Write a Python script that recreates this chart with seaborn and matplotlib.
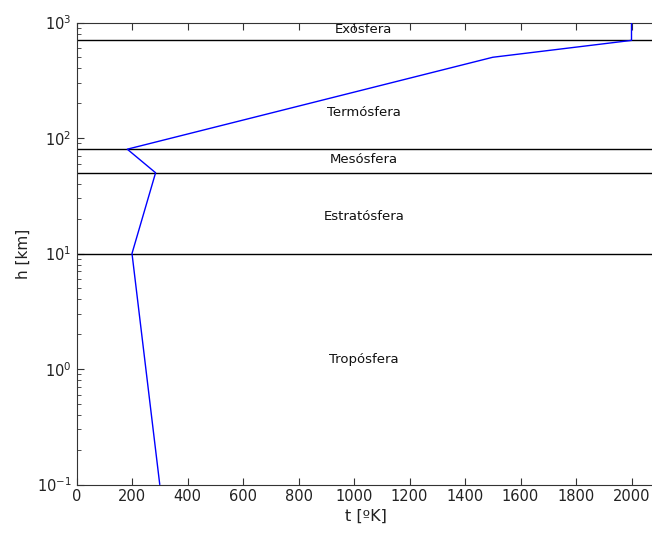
import numpy as np
import pandas as pd
import matplotlib
matplotlib.use("Agg")
from matplotlib import pyplot as plt, ticker
import seaborn as sns

# temperature profile [K] vs height [km]
temp_k = [300, 200, 285, 183, 1500, 2000, 2000]
height_km = [0.1, 10, 50, 80, 500, 700, 1000]

# layer boundaries [km]
boundaries = [10, 50, 80, 700]

layer_names = ["Tropósfera", "Estratósfera", "Mesósfera", "Termósfera", "Exósfera"]
layer_label_h = [1.2, 21, 65, 166, 870]

sns.set_style("ticks")
plt.rcParams["font.family"] = ["DejaVu Sans"]
plt.rcParams["mathtext.default"] = "regular"

x_max = 2085
fig = plt.figure(figsize=(6.52, 5.33), dpi=100)
ax = fig.add_axes([76.5 / 652, 1 - 484.5 / 533, x_max * 0.2775 / 652, 462 / 533])

df = pd.DataFrame({"t": temp_k, "h": height_km})
sns.lineplot(data=df, x="t", y="h", sort=False, estimator=None,
             color="#0000ff", lw=1, ax=ax, zorder=3)

for b in boundaries:
    ax.axhline(b, color="black", lw=1)

for name, h in zip(layer_names, layer_label_h):
    ax.text(1035, h, name, ha="center", va="center", fontsize=9.5, color="#111111")

ax.set_yscale("log")
ax.set_xlim(0, x_max)
ax.set_ylim(0.1, 1000)
ax.set_xticks(np.arange(0, 2001, 200))
ax.yaxis.set_major_locator(ticker.LogLocator(base=10, numticks=10))
ax.yaxis.set_minor_locator(ticker.LogLocator(base=10, subs=np.arange(2, 10), numticks=10))
ax.yaxis.set_minor_formatter(ticker.NullFormatter())

# matlab-like box: ticks inside, right spine falls just outside the image
ax.tick_params(direction="in", top=True, right=False, which="both", labelsize=10.5,
               colors="#333333", labelcolor="#222222")
ax.tick_params(which="major", length=5)
ax.tick_params(which="minor", length=3)
for s in ax.spines.values():
    s.set_color("#333333")

ax.set_xlabel("t [ºK]", fontsize=11.5, color="#222222", labelpad=3)
ax.set_ylabel("h [km]", fontsize=11, color="#222222")

fig.savefig("out.png", dpi=100)
